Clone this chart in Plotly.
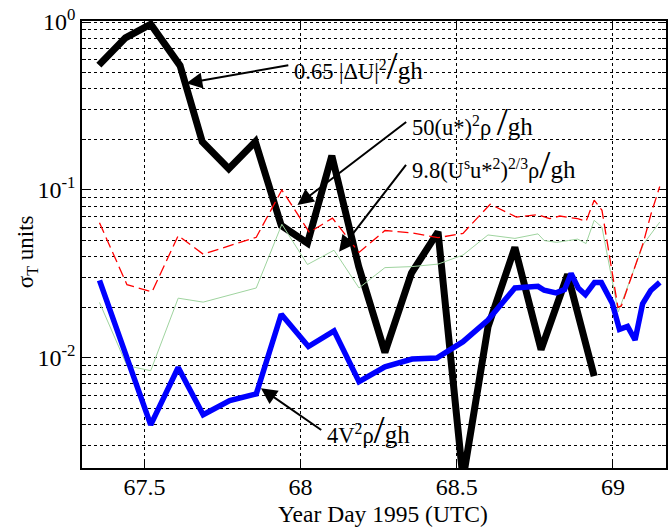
import plotly.graph_objects as go

# ---- sigma_T estimates (nondimensional), Year Day 1995 ----
# 0.65 |dU|^2 / gh
t_shear = [67.354, 67.439, 67.520, 67.614, 67.685, 67.770, 67.855, 67.938, 68.022, 68.100,
           68.186, 68.270, 68.355, 68.440, 68.520, 68.600, 68.686, 68.770, 68.855, 68.940]
s_shear = [0.554, 0.805, 0.97, 0.55, 0.194, 0.134, 0.194, 0.0615, 0.0482, 0.160,
           0.035, 0.0108, 0.032, 0.0564, 0.0019, 0.0153, 0.0455, 0.0112, 0.0314, 0.0078]

# 4 V^2 rho / gh
t_wave = [67.356, 67.520, 67.608, 67.688, 67.773, 67.858, 67.938, 68.025, 68.107, 68.187,
          68.270, 68.357, 68.436, 68.520, 68.600, 68.686, 68.760, 68.780, 68.818, 68.845,
          68.866, 68.889, 68.912, 68.941, 68.963, 68.998, 69.021, 69.047, 69.071, 69.095,
          69.121, 69.150]
s_wave = [0.029, 0.0040, 0.00877, 0.00459, 0.00557, 0.00611, 0.0182, 0.0117, 0.0145, 0.00722,
          0.00886, 0.00986, 0.0100, 0.0125, 0.0168, 0.0261, 0.0267, 0.0253, 0.0244, 0.0255,
          0.0318, 0.0261, 0.0238, 0.0281, 0.0281, 0.0212, 0.0148, 0.0154, 0.0128, 0.0210,
          0.0252, 0.0282]

# 50 (u*)^2 rho / gh
t_stress = [67.356, 67.444, 67.524, 67.608, 67.688, 67.770, 67.858, 67.940, 68.028, 68.102,
            68.187, 68.270, 68.357, 68.440, 68.520, 68.607, 68.691, 68.760, 68.797, 68.830,
            68.887, 68.914, 68.940, 68.965, 69.016, 69.027, 69.098, 69.122, 69.150]
s_stress = [0.0638, 0.0273, 0.0247, 0.0535, 0.0415, 0.0465, 0.0523, 0.100, 0.056, 0.068,
            0.0425, 0.0574, 0.0555, 0.052, 0.0552, 0.0823, 0.069, 0.0713, 0.0675, 0.070,
            0.0675, 0.065, 0.087, 0.0757, 0.0200, 0.0204, 0.049, 0.072, 0.105]

# 9.8 (U^s u*^2)^(2/3) rho / gh
t_stokes = [67.356, 67.444, 67.520, 67.608, 67.688, 67.770, 67.858, 67.940, 68.022, 68.107,
            68.187, 68.270, 68.357, 68.440, 68.520, 68.600, 68.686, 68.760, 68.780, 68.820,
            68.866, 68.887, 68.914, 68.940, 68.965, 69.017, 69.098, 69.150]
s_stokes = [0.0214, 0.0090, 0.0084, 0.0227, 0.0215, 0.0237, 0.0261, 0.0625, 0.036, 0.0438,
            0.0261, 0.0345, 0.035, 0.0362, 0.041, 0.054, 0.0515, 0.0548, 0.050, 0.0488,
            0.0506, 0.051, 0.048, 0.066, 0.060, 0.0188, 0.0477, 0.0644]

x_ticks = [67.5, 68, 68.5, 69]
x_ticktext = ["67.5", "68", "68.5", "69"]
y_ticks = [0.01, 0.1, 1.0]
y_ticktext = ["10<sup>-2</sup>", "10<sup>-1</sup>", "10<sup>0</sup>"]

FONT = "Liberation Serif"

fig = go.Figure()
fig.add_trace(go.Scatter(x=t_shear, y=s_shear, mode="lines",
                         line=dict(color="black", width=7)))
fig.add_trace(go.Scatter(x=t_stokes, y=s_stokes, mode="lines",
                         line=dict(color="#9fd49f", width=1)))
fig.add_trace(go.Scatter(x=t_stress, y=s_stress, mode="lines",
                         line=dict(color="#ff0000", width=1.3, dash="11px,5px")))
fig.add_trace(go.Scatter(x=t_wave, y=s_wave, mode="lines",
                         line=dict(color="#0000ff", width=5.5)))

# minor grid at 2..9 x 10^n on the log axis
y_minor = [m * 10.0 ** e for e in (-3, -2, -1) for m in range(2, 10)]

grid = dict(showgrid=True, gridcolor="black", gridwidth=1, griddash="dot")
fig.update_xaxes(range=[67.30, 69.17], tickvals=x_ticks, ticktext=x_ticktext,
                 ticks="inside", ticklen=6, tickcolor="black", tickwidth=1,
                 showline=True, linecolor="black", linewidth=1.5, mirror="ticks",
                 zeroline=False, ticklabelstandoff=-4,
                 tickfont=dict(family=FONT, size=24, color="black"), **grid)
fig.update_yaxes(type="log", range=[-2.655, 0.006], tickvals=y_ticks, ticktext=y_ticktext,
                 ticks="inside", ticklen=6, tickcolor="black", tickwidth=1,
                 showline=True, linecolor="black", linewidth=1.5, mirror="ticks",
                 zeroline=False, tickfont=dict(family=FONT, size=24, color="black"),
                 minor=dict(tickmode="array", tickvals=y_minor, ticks="inside", ticklen=4,
                            tickcolor="black", **grid),
                 **grid)

L, T, W, H = 82, 21, 586, 447


def px(xp):
    return (xp - L) / W


def py(yp):
    return (T + H - yp) / H


# white label backgrounds, drawn over the grid but under the curves
for x0, x1, y0, y1 in [(293, 437, 27, 97), (407, 610, 84, 112),
                       (395, 642, 112, 190), (322, 425, 415, 450)]:
    fig.add_shape(type="rect", xref="paper", yref="paper", layer="between",
                  x0=px(x0), x1=px(x1), y0=py(y1), y1=py(y0),
                  fillcolor="white", line=dict(width=0))

SL = "<span style='font-size:40px'>/</span>"
GH = "<span style='font-size:25px'>gh</span>"
# label text, arrow head on the curve (data coords, log10 for y), tail offset in px
labels = [
    ("0.65 |ΔU|<sup>2</sup>" + SL + GH, 67.634, -0.3648, 102.0, -18.0),
    ("50(u*)<sup>2</sup>ρ " + SL + GH, 67.990, -1.0892, 108.7, -83.0),
    ("9.8(U<sup>s</sup>u*<sup>2</sup>)<sup>2/3</sup>ρ" + SL + GH, 68.123, -1.3672, 67.0, -86.7),
    ("4V<sup>2</sup>ρ" + SL + GH, 67.873, -2.1803, 60.3, 41.7),
]
for txt, hx, hy, ax, ay in labels:
    fig.add_annotation(text=txt, x=hx, y=hy, xref="x", yref="y", ax=ax, ay=ay,
                       xanchor="left", yanchor="middle", borderpad=5,
                       showarrow=True, arrowhead=2, arrowsize=1.6, arrowwidth=2,
                       arrowcolor="black", font=dict(family=FONT, size=22.5, color="black"))

# axis titles
fig.add_annotation(text="Year Day 1995 (UTC)", xref="paper", yref="paper",
                   x=px(384), y=py(514), xanchor="center", yanchor="middle",
                   showarrow=False, font=dict(family=FONT, size=23.5, color="black"))
fig.add_annotation(text="σ<sub>T</sub> units", xref="paper", yref="paper",
                   x=px(27), y=py(252), xanchor="center", yanchor="middle", textangle=-90,
                   showarrow=False, font=dict(family=FONT, size=23, color="black"))

fig.update_layout(width=668, height=529, margin=dict(l=L, r=0, t=T, b=529 - T - H),
                  paper_bgcolor="white", plot_bgcolor="white", showlegend=False,
                  font=dict(family=FONT, size=24, color="black"))

fig.write_html("out.html")
